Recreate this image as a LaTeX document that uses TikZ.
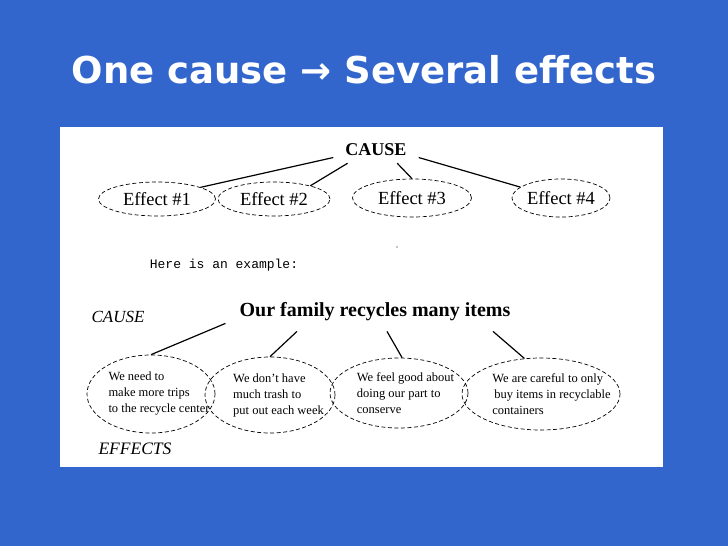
\documentclass[tikz,border=0pt]{standalone}
\usepackage{fontspec}
\setmainfont{Liberation Serif}
\setmonofont{Liberation Mono}
\newfontfamily\titlefont{DejaVu Sans}
\usepackage{xcolor}
\usetikzlibrary{shapes.geometric}
\definecolor{slideblue}{RGB}{51,102,204}

\begin{document}
\begin{tikzpicture}[x=1pt,y=-1pt]
\par
\tikzstyle{oval}=[draw,ellipse,dash pattern=on 4pt off 2.5pt,line width=0.7pt,inner sep=0pt]
\tikzstyle{effet}=[align=left,inner sep=0pt,font=\fontsize{12.5}{16}\selectfont]
\tikzstyle{trait}=[line width=1.2pt]
\fill[slideblue] (0,0) rectangle (728,546) ;
\useasboundingbox (0,0) rectangle (728,546) ;
\node (titre) at (364,70) [text=white,font=\titlefont\bfseries\fontsize{37}{42}\selectfont]{One cause → Several effects} ;
\fill[white] (60,127) rectangle (663,467) ;
\par
\node (cause) at (376,150) [inner xsep=12pt,inner ysep=7pt,font=\bfseries\fontsize{18}{20}\selectfont]{CAUSE} ;
\node (e1) at (157,199) [oval,minimum width=117pt,minimum height=34pt,font=\fontsize{18.5}{20}\selectfont]{Effect \#1} ;
\node (e2) at (274,199) [oval,minimum width=112pt,minimum height=34pt,font=\fontsize{18.5}{20}\selectfont]{Effect \#2} ;
\node (e3) at (412,198) [oval,minimum width=119pt,minimum height=38pt,font=\fontsize{18.5}{20}\selectfont]{Effect \#3} ;
\node (e4) at (561,198) [oval,minimum width=98pt,minimum height=38pt,font=\fontsize{18.5}{20}\selectfont]{Effect \#4} ;
\draw[trait] (cause.190) -- (e1.15) ;
\draw[trait] (cause.205) -- (e2.20) ;
\draw[trait] (cause.328) -- (e3.north) ;
\draw[trait] (cause.350) -- (e4.165) ;
\node (exemple) at (224,265) [font=\ttfamily\fontsize{13}{15}\selectfont]{Here is an example:} ;
\fill (397,247) circle (0.7pt) ;
\par
\node (cause2) at (118,317) [font=\itshape\fontsize{17}{20}\selectfont]{CAUSE} ;
\node (effets) at (135,449) [font=\itshape\fontsize{17.5}{20}\selectfont]{EFFECTS} ;
\node (famille) at (375,312) [inner xsep=14pt,inner ysep=10pt,font=\bfseries\fontsize{20}{24}\selectfont]{Our family recycles many items} ;
\node (o1) at (151,394) [oval,minimum width=128pt,minimum height=78pt]{} ;
\node (o2) at (270,395) [oval,minimum width=130pt,minimum height=76pt]{} ;
\node (o3) at (399,393) [oval,minimum width=138pt,minimum height=70pt]{} ;
\node (o4) at (541,394) [oval,minimum width=158pt,minimum height=72pt]{} ;
  \node (t1) at ([xshift=8pt]o1.center) [effet]{We need to\\make more trips\\to the recycle center} ;
  \node (t2) at ([xshift=8.5pt]o2.center) [effet]{We don’t have\\much trash to\\put out each week} ;
  \node (t3) at ([xshift=6.5pt]o3.center) [effet]{We feel good about\\doing our part to\\conserve} ;
  \node (t4) at ([xshift=10.5pt]o4.center) [effet]{We are careful to only\\\hspace{2pt}buy items in recyclable\\containers} ;
\draw[trait] ([yshift=8pt]famille.south west) -- (o1.north) ;
\draw[trait] ([xshift=-78pt]famille.south) -- (o2.north) ;
\draw[trait] ([xshift=12pt]famille.south) -- (o3.85) ;
\draw[trait] ([xshift=118pt]famille.south) -- (o4.115) ;
\par
\end{tikzpicture}
\end{document}
